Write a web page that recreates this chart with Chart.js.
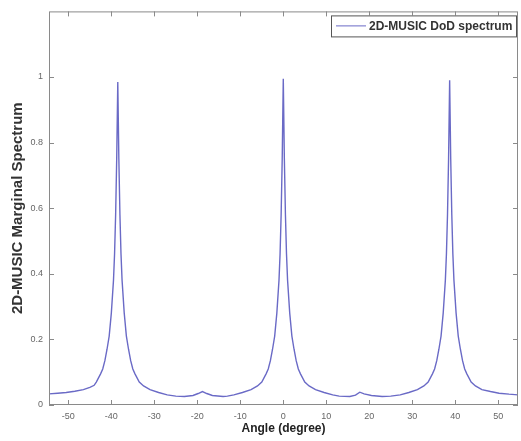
<!DOCTYPE html>
<html>
<head>
<meta charset="utf-8">
<script src="https://cdn.jsdelivr.net/npm/chart.js@4"></script>
<style>
  html, body { margin: 0; padding: 0; background: #fff; }
  #wrap { width: 521px; height: 441px; }
</style>
</head>
<body>
<div id="wrap"><canvas id="spectrumChart" width="521" height="441"></canvas></div>
<script>
// Angle samples (degree) and the marginal spectrum
const angles = [
  -54.5, -52.5, -50.5, -48.5, -46.5, -45, -44, -43.5, -42.5, -42, -41.5, -41, -40.5, -40,
  -39.5, -39.25, -39, -38.75, -38.5, -38.25, -38, -37.75, -37.5, -37,
  -36.5, -36, -35.5, -35, -34.5, -33.5, -32.5, -31, -29, -27, -25, -23, -21, -19.8,
  -18.8, -17.8, -16.5, -14, -13, -11.5, -9.5, -7.5, -6, -5, -4, -3.5, -3, -2.5, -2,
  -1.5, -1, -0.75, -0.5, -0.25, 0, 0.25, 0.5, 0.75, 1, 1.5, 2, 2.5, 3,
  3.5, 4, 5, 6, 7.5, 9.5, 11.5, 13, 15.5, 16.8, 17.8, 18.8, 20.5, 23, 25, 27.2, 29.2,
  31.2, 32.7, 33.7, 34.7, 35.2, 35.7, 36.2, 36.7, 37.2, 37.7, 37.95, 38.2, 38.45,
  38.7, 38.95, 39.2, 39.45, 39.7, 40.2, 40.7, 41.2, 41.7, 42.2, 42.7, 43.7, 44.7,
  46.2, 48.2, 50.2, 52.5, 54.6
];
const spectrum = [
  0.034, 0.036, 0.038, 0.042, 0.047, 0.054, 0.060, 0.070, 0.095, 0.11, 0.135, 0.17, 0.21, 0.28,
  0.38, 0.46, 0.58, 0.75, 0.985, 0.75, 0.58, 0.46, 0.38, 0.28,
  0.21, 0.17, 0.135, 0.11, 0.095, 0.070, 0.058, 0.047, 0.038, 0.031, 0.027, 0.026, 0.029, 0.035,
  0.041, 0.035, 0.029, 0.026, 0.027, 0.031, 0.038, 0.047, 0.058, 0.070, 0.095, 0.11, 0.135, 0.17, 0.21,
  0.28, 0.38, 0.46, 0.58, 0.75, 0.995, 0.75, 0.58, 0.46, 0.38, 0.28, 0.21, 0.17, 0.135,
  0.11, 0.095, 0.070, 0.058, 0.047, 0.038, 0.031, 0.027, 0.026, 0.030, 0.039, 0.034, 0.029, 0.026, 0.027, 0.031, 0.038,
  0.047, 0.058, 0.070, 0.095, 0.11, 0.135, 0.17, 0.21, 0.28, 0.38, 0.46, 0.58, 0.75,
  0.99, 0.75, 0.58, 0.46, 0.38, 0.28, 0.21, 0.17, 0.135, 0.11, 0.095, 0.070, 0.058,
  0.047, 0.041, 0.036, 0.033, 0.031
];
const xTicks = [-50, -40, -30, -20, -10, 0, 10, 20, 30, 40, 50];
const yTicks = [0, 0.2, 0.4, 0.6, 0.8, 1];
const seriesName = '2D-MUSIC DoD spectrum';

const lineColor = '#6a6ac6';
const axisColor = '#8a8a8a';
const fontFamily = '"Liberation Sans", Arial, sans-serif';

// MATLAB-like box with inward ticks on all four sides, plus the legend
const boxPlugin = {
  id: 'matlabBox',
  afterDraw(chart) {
    const { ctx, chartArea: a, scales } = chart;
    ctx.save();
    ctx.strokeStyle = axisColor;
    ctx.lineWidth = 1;
    ctx.strokeRect(a.left + 0.5, a.top + 0.5, a.right - a.left - 1, a.bottom - a.top - 1);
    ctx.beginPath();
    xTicks.forEach(v => {
      const px = Math.round(scales.x.getPixelForValue(v)) + 0.5;
      ctx.moveTo(px, a.bottom); ctx.lineTo(px, a.bottom - 5);
      ctx.moveTo(px, a.top); ctx.lineTo(px, a.top + 5);
    });
    yTicks.forEach(v => {
      const py = Math.round(scales.y.getPixelForValue(v)) + 0.5;
      ctx.moveTo(a.left, py); ctx.lineTo(a.left + 5, py);
      ctx.moveTo(a.right, py); ctx.lineTo(a.right - 5, py);
    });
    ctx.stroke();

    // legend box in the top-right corner
    const bx = a.right - 187, by = a.top + 4, bw = 185, bh = 21;
    ctx.fillStyle = '#fff';
    ctx.fillRect(bx, by, bw, bh);
    ctx.strokeStyle = '#555';
    ctx.strokeRect(bx + 0.5, by + 0.5, bw, bh);
    ctx.strokeStyle = lineColor;
    ctx.beginPath();
    ctx.moveTo(bx + 5, by + 10.5); ctx.lineTo(bx + 35, by + 10.5);
    ctx.stroke();
    ctx.fillStyle = '#333';
    ctx.font = 'bold 12px ' + fontFamily;
    ctx.textBaseline = 'middle';
    ctx.fillText(seriesName, bx + 38, by + 11);
    ctx.restore();
  }
};

new Chart(document.getElementById('spectrumChart').getContext('2d'), {
  type: 'line',
  data: {
    datasets: [{
      label: seriesName,
      data: angles.map((a, i) => ({ x: a, y: spectrum[i] })),
      borderColor: lineColor,
      borderWidth: 1.4,
      pointRadius: 0,
      fill: false,
      tension: 0
    }]
  },
  options: {
    responsive: false,
    animation: false,
    devicePixelRatio: 1,
    layout: { padding: { top: 3, right: 3, left: 0, bottom: 5 } },
    plugins: {
      legend: { display: false },
      tooltip: { enabled: false }
    },
    scales: {
      x: {
        type: 'linear',
        min: -54.5,
        max: 54.6,
        afterBuildTicks: s => { s.ticks = xTicks.map(v => ({ value: v })); },
        afterFit: s => { s.height = 31; },
        grid: { display: false, drawTicks: false },
        border: { display: false },
        ticks: {
          color: '#666',
          font: { family: fontFamily, size: 9 },
          padding: 6,
          maxRotation: 0
        },
        title: {
          display: true,
          text: 'Angle (degree)',
          color: '#222',
          font: { family: fontFamily, size: 12, weight: 'bold' },
          padding: { top: 0, bottom: 0 }
        }
      },
      y: {
        min: 0,
        max: 1.2,
        afterBuildTicks: s => { s.ticks = yTicks.map(v => ({ value: v })); },
        afterFit: s => { s.width = 49; },
        grid: { display: false, drawTicks: false },
        border: { display: false },
        ticks: {
          color: '#666',
          font: { family: fontFamily, size: 9 },
          padding: 6,
          callback: v => String(v)
        },
        title: {
          display: true,
          text: '2D-MUSIC Marginal Spectrum',
          color: '#333',
          font: { family: fontFamily, size: 15, weight: 'bold' },
          padding: { top: 9, bottom: 0 }
        }
      }
    }
  },
  plugins: [boxPlugin]
});
</script>
</body>
</html>
